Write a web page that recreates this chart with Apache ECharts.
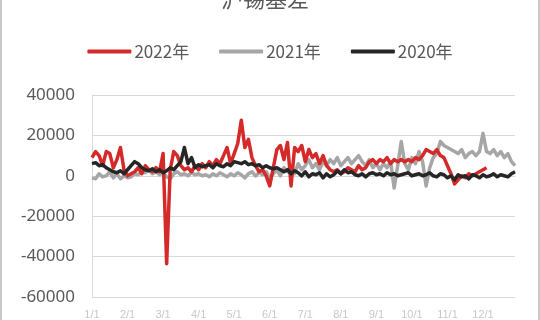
<!DOCTYPE html>
<html><head><meta charset="utf-8">
<script src="https://cdn.jsdelivr.net/npm/echarts@6/dist/echarts.min.js"></script>
<style>
html,body{margin:0;padding:0;background:#fff;}
#c{width:536px;height:320px;border-left:2px solid #c8c8c8;border-right:2px solid #c8c8c8;}
</style></head>
<body><div id="c"></div>
<script>
const tickLabels = ['1/1','2/1','3/1','4/1','5/1','6/1','7/1','8/1','9/1','10/1','11/1','12/1'];
const seriesNames = ['2022年','2021年','2020年'];
const s2022 = [9000,12000,10000,5000,12000,11000,4000,8000,14000,3000,
  0,1000,2000,4000,1000,5000,3000,2000,4000,2000,
  11000,-43500,3000,12000,10000,5000,3000,4000,2000,5000,
  3000,6000,4000,7000,5000,8000,6000,10000,14000,6000,
  11000,16000,27500,14000,18000,9000,5000,2000,3000,0,
  -5000,4000,13000,15000,8000,16500,-5000,14000,12000,15000,
  7000,13000,9000,11000,6000,10000,5000,3000,2000,3000,
  1000,2000,4000,3000,2000,5000,3000,4000,7000,8000,
  6000,8000,7000,9000,6000,8000,7000,8000,7000,8000,
  7000,9000,8000,10000,13000,12000,11000,13000,10000,9000,
  5000,1000,-4000,-2000,0,-1000,1000,0,1000,2000,
  3000,4000,null,null,null,null,null,null,null,null];
const s2021 = [-1000,-1500,1000,-500,0,2000,-1000,1000,-1500,0,
  -1000,-500,1000,500,2000,1500,3000,1000,2000,500,
  1500,-500,-1500,1000,2000,500,1000,0,1500,500,
  1000,0,500,-500,1000,0,1500,500,-500,1000,
  0,1500,500,-1000,1000,2000,0,1500,500,2000,
  -1000,1000,3000,0,4000,2000,5000,1000,6000,3000,
  5000,8000,4000,6000,3000,7000,5000,8000,6000,9000,
  5000,7000,9000,6000,8000,10000,7000,5000,8000,4000,
  6000,3000,6000,4000,7000,-6000,5000,17000,6000,3000,
  9000,6000,12000,7000,-5000,4000,9000,11000,17000,15000,
  14000,13000,12000,11000,13000,9000,11000,12000,10000,12000,
  21000,12000,11000,13000,10000,12000,9000,11000,7000,5000];
const s2020 = [6000,6500,5000,5500,4000,3000,2000,1500,2500,1000,
  3000,5000,7000,6000,4000,3000,2500,3500,2000,3000,
  1500,2500,4000,3000,5000,7000,14000,6000,9000,4000,
  5500,4500,5000,5500,4000,6000,5000,4500,6000,5000,
  7000,6500,6000,7000,5500,6000,5000,5500,4000,5000,
  4000,3500,4000,3000,2000,3000,1000,2500,1500,0,
  2000,-500,1000,500,1500,-1000,1000,-500,500,2500,
  1000,3000,1500,2000,500,0,1000,-500,1000,1500,
  500,1000,0,1500,500,1000,0,500,1000,1500,
  0,500,1000,0,500,1500,0,-500,1000,500,
  -1000,0,-2000,500,-500,0,-1500,500,0,-1000,
  500,-500,0,1000,-500,500,0,-500,1000,2000];
const categories = s2021.map((_, i) => i);
const colors = ['#d42a2a','#a6a6a6','#262626'];

const chart = echarts.init(document.getElementById('c'));
const mk = (name, data, color, z) => ({
  name, type: 'line', data, showSymbol: false, symbol: 'none', z,
  lineStyle: {width: 3.5, color, join: 'round'}, itemStyle: {color}, connectNulls: false
});
chart.setOption({
  animation: false,
  title: {text: '沪锡基差', left: 214, top: -17,
    textStyle: {fontSize: 22, fontWeight: 'normal', color: '#595959', fontFamily: 'Noto Sans CJK SC'}},
  legend: {top: 38, left: 'center', itemWidth: 44, itemHeight: 4, itemGap: 30,
    icon: 'roundRect',
    textStyle: {fontSize: 17, color: '#595959', fontFamily: 'Noto Sans CJK SC', padding: [0,0,0,-2]},
    data: seriesNames},
  grid: {left: 90, right: 23, top: 95, bottom: 20, containLabel: false},
  xAxis: {type: 'category', data: categories, boundaryGap: false,
    axisLine: {lineStyle: {color: '#d9d9d9', width: 1}},
    axisTick: {show: false},
    axisLabel: {interval: 9, fontSize: 11, color: '#c8c8c8', margin: 12,
      formatter: v => tickLabels[Math.round(v / 10)] || ''}},
  yAxis: {type: 'value', min: -60000, max: 40000, interval: 20000,
    axisLine: {show: true, lineStyle: {color: '#d9d9d9'}},
    axisTick: {show: false},
    splitLine: {lineStyle: {color: '#d9d9d9'}},
    axisLabel: {fontSize: 17, color: '#595959', margin: 17, fontFamily: 'Noto Sans',
      formatter: v => String(v)}},
  series: [mk(seriesNames[0], s2022, colors[0], 3), mk(seriesNames[1], s2021, colors[1], 2), mk(seriesNames[2], s2020, colors[2], 4)]
});
</script></body></html>
